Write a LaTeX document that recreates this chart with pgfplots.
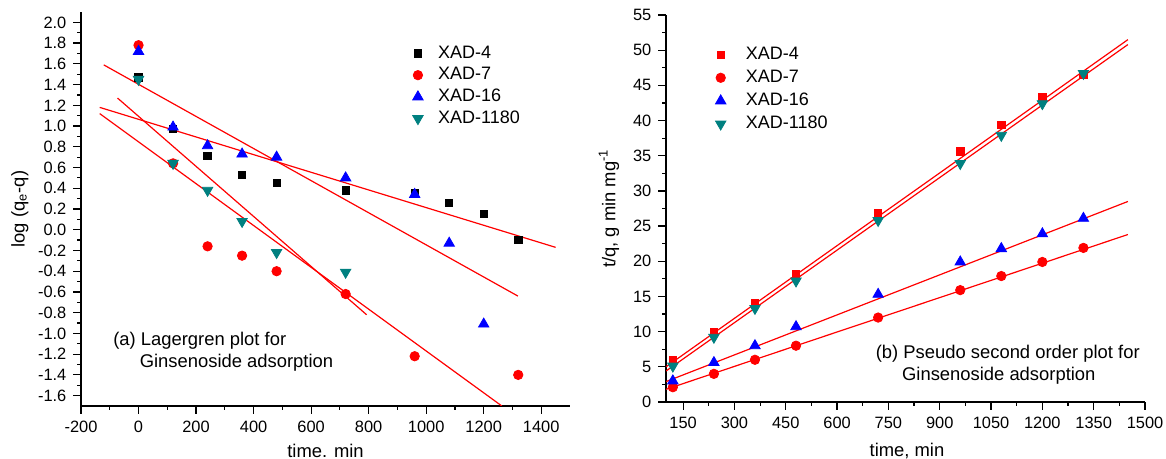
\documentclass[border=0pt]{standalone}
\usepackage{fontspec}
\setmainfont{Liberation Sans}
\usepackage{pgfplots}
\pgfplotsset{compat=1.18}
\definecolor{tealmk}{RGB}{0,128,128}
\pgfplotsset{
  kin/.style={
    scale only axis,
    axis lines*=left,
    tick align=outside,
    major tick length=3.8pt,
    minor tick length=2pt,
    tick style={black, line width=0.6pt},
    axis line style={line width=0.7pt},
    tick label style={font=\fontsize{8.2}{9.8}\selectfont},
    label style={font=\fontsize{9.2}{11}\selectfont},
    /pgf/number format/assume math mode=true,
    /pgf/number format/1000 sep={},
    legend style={draw=none, fill=none, font=\fontsize{9}{10.8}\selectfont,
                  anchor=north west, cells={anchor=west}},
  },
  fit/.style={red, line width=0.6pt, forget plot},
  sq/.style={only marks, mark=square*, mark size=1.85pt},
  ci/.style={only marks, mark=*, mark size=2.35pt, red},
  tr/.style={only marks, mark=triangle*, mark size=3pt, blue},
  dt/.style={only marks, mark=triangle*, mark size=3pt, tealmk, mark options={rotate=180}},
}
\begin{document}
\begin{tikzpicture}
\path[use as bounding box] (0,0) rectangle (583pt,229.5pt);

% (a) Lagergren
\begin{axis}[kin,
  at={(40.5pt,26.5pt)}, anchor=south west,
  width=244.5pt, height=197pt,
  xmin=-200, xmax=1500, ymin=-1.7, ymax=2.1,
  xtick={-200,0,200,400,600,800,1000,1200,1400}, minor x tick num=1,
  ytick={-1.6,-1.4,-1.2,-1.0,-0.8,-0.6,-0.4,-0.2,0,0.2,0.4,0.6,0.8,1.0,1.2,1.4,1.6,1.8,2.0},
  minor y tick num=1,
  yticklabel style={/pgf/number format/fixed, /pgf/number format/fixed zerofill,
                    /pgf/number format/precision=1},
  xlabel={time. min}, ylabel={log (q\textsubscript{e}-q)},
  xlabel style={at={(axis description cs:0.5,-0.114)}, anchor=center},
  ylabel style={at={(axis description cs:-0.125,0.5)}, anchor=center, rotate=0},
  legend style={at={(axis cs:931,1.854)}, row sep=-0.9pt,
                /tikz/every odd column/.append style={column sep=5.5pt}},
]
\addplot[sq, black] coordinates {(0,1.47) (120,0.97) (240,0.71) (360,0.53) (480,0.45)
  (720,0.38) (960,0.35) (1080,0.26) (1200,0.15) (1320,-0.10)};
\addlegendentry{XAD-4}
\addplot[ci] coordinates {(0,1.78) (120,0.64) (240,-0.16) (360,-0.25) (480,-0.40)
  (720,-0.62) (960,-1.22) (1320,-1.40)};
\addlegendentry{XAD-7}
\addplot[tr] coordinates {(0,1.72) (120,0.99) (240,0.81) (360,0.73) (480,0.70)
  (720,0.50) (960,0.34) (1080,-0.13) (1200,-0.91)};
\addlegendentry{XAD-16}
\addplot[dt] coordinates {(0,1.45) (120,0.64) (240,0.38) (360,0.08) (480,-0.22) (720,-0.41)};
\addlegendentry{XAD-1180}
\addplot[fit] coordinates {(-121,1.59) (1319,-0.64)};
\addplot[fit] coordinates {(-135,1.18) (1450,-0.17)};
\addplot[fit] coordinates {(-73,1.27) (793,-0.82)};
\addplot[fit] coordinates {(-135,1.12) (1263,-1.70)};
\node[anchor=west, font=\fontsize{9.2}{11}\selectfont, inner sep=0pt] at (axis cs:-89,-1.07) {(a) Lagergren plot for};
\node[anchor=west, font=\fontsize{9.2}{11}\selectfont, inner sep=0pt] at (axis cs:3,-1.28) {Ginsenoside adsorption};
\end{axis}

% (b) Pseudo second order
\begin{axis}[kin,
  at={(333pt,28.5pt)}, anchor=south west,
  width=239.5pt, height=193.5pt,
  xmin=100, xmax=1500, ymin=0, ymax=55,
  xtick={150,300,450,600,750,900,1050,1200,1350,1500}, minor x tick num=1,
  ytick={0,5,10,15,20,25,30,35,40,45,50,55}, minor y tick num=1,
  xlabel={time, min}, ylabel={t/q, g min mg\textsuperscript{-1}},
  xlabel style={at={(axis description cs:0.503,-0.127)}, anchor=center},
  ylabel style={at={(axis description cs:-0.119,0.5)}, anchor=center, rotate=0},
  legend style={at={(axis cs:226,51.63)}, row sep=-0.2pt,
                /tikz/every odd column/.append style={column sep=8pt}},
]
\addplot[sq, red] coordinates {(120,6.0) (240,10.0) (360,14.0) (480,18.2) (720,26.9)
  (960,35.6) (1080,39.4) (1200,43.3) (1320,46.5)};
\addlegendentry{XAD-4}
\addplot[ci] coordinates {(120,2.1) (240,4.0) (360,6.0) (480,8.0) (720,12.0)
  (960,15.9) (1080,17.9) (1200,19.9) (1320,21.9)};
\addlegendentry{XAD-7}
\addplot[tr] coordinates {(120,3.0) (240,5.6) (360,8.0) (480,10.7) (720,15.3)
  (960,19.9) (1080,21.8) (1200,23.9) (1320,26.1)};
\addlegendentry{XAD-16}
\addplot[dt] coordinates {(120,5.1) (240,9.2) (360,13.3) (480,17.2) (720,25.8)
  (960,33.9) (1080,37.9) (1200,42.4) (1320,46.7)};
\addlegendentry{XAD-1180}
\addplot[fit] coordinates {(100,5.0) (1450,51.5)};
\addplot[fit] coordinates {(100,4.4) (1450,50.8)};
\addplot[fit] coordinates {(100,2.9) (1450,28.5)};
\addplot[fit] coordinates {(100,1.8) (1450,23.8)};
\node[anchor=west, font=\fontsize{9.2}{11}\selectfont, inner sep=0pt] at (axis cs:712,6.9) {(b) Pseudo second order plot for};
\node[anchor=west, font=\fontsize{9.2}{11}\selectfont, inner sep=0pt] at (axis cs:789,3.7) {Ginsenoside adsorption};
\end{axis}
\end{tikzpicture}
\end{document}
